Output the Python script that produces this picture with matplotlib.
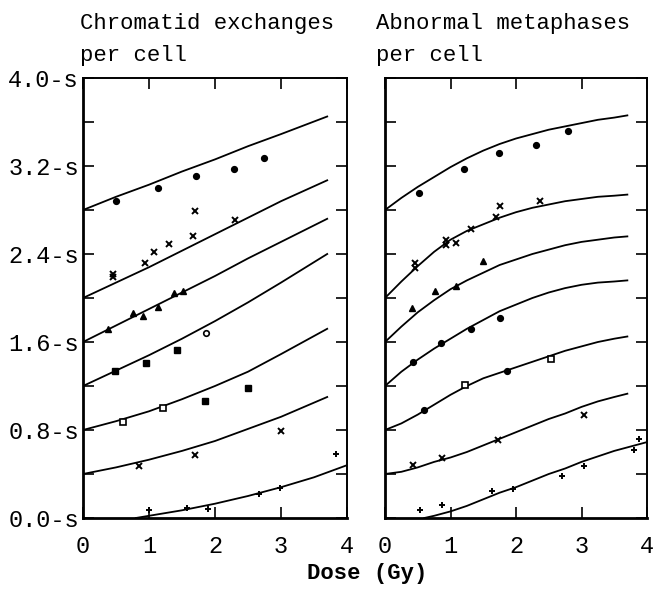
import numpy as np
import matplotlib
matplotlib.use("Agg")
import matplotlib.pyplot as plt

# --- data (dose in Gy, value in per-cell units, curves offset) ---
# left panel: chromatid exchanges per cell, fitted curves
left_dose = [0, 0.5, 1, 1.5, 2, 2.5, 3, 3.7]
left_curves = [
    [2.80, 2.92, 3.03, 3.15, 3.26, 3.38, 3.49, 3.65],
    [2.00, 2.14, 2.28, 2.43, 2.58, 2.73, 2.88, 3.07],
    [1.60, 1.75, 1.90, 2.05, 2.20, 2.36, 2.51, 2.72],
    [1.20, 1.34, 1.48, 1.63, 1.79, 1.96, 2.14, 2.40],
    [0.80, 0.88, 0.97, 1.08, 1.20, 1.33, 1.49, 1.72],
    [0.40, 0.46, 0.53, 0.61, 0.70, 0.81, 0.92, 1.10],
]
left_low_dose = [0.8, 1, 1.5, 2, 2.5, 3, 3.5, 4]
left_low_curve = [0.0, 0.02, 0.07, 0.13, 0.20, 0.28, 0.37, 0.48]

# left panel: observed points
left_pts = [
    ([0.50, 1.13, 1.71, 2.29, 2.74], [2.88, 3.00, 3.11, 3.17, 3.27], "o"),
    ([0.46, 0.46, 0.94, 1.07, 1.30, 1.67, 1.70, 2.30],
     [2.22, 2.19, 2.32, 2.42, 2.49, 2.56, 2.79, 2.71], "x"),
    ([0.38, 0.76, 0.91, 1.14, 1.38, 1.51], [1.72, 1.86, 1.84, 1.92, 2.05, 2.06], "^"),
    ([0.48, 0.95, 1.42], [1.34, 1.41, 1.53], "s"),
    ([1.87], [1.68], "o_open"),
    ([0.60, 1.21], [0.87, 1.00], "s_open"),
    ([1.85, 2.50], [1.06, 1.18], "s"),
    ([0.85, 1.70, 3.00], [0.47, 0.57, 0.79], "x"),
    ([3.84, 1.00, 1.58, 1.90, 2.67, 2.98], [0.58, 0.07, 0.09, 0.08, 0.22, 0.27], "+"),
]

# right panel: abnormal metaphases per cell, fitted curves
right_dose = [0, 0.25, 0.5, 0.75, 1, 1.25, 1.5, 1.75, 2, 2.25, 2.5, 2.75, 3, 3.25, 3.5, 3.7]
right_curves = [
    [2.80, 2.91, 3.01, 3.10, 3.19, 3.27, 3.34, 3.40, 3.45, 3.49, 3.53, 3.56, 3.59, 3.62, 3.64, 3.66],
    [2.00, 2.15, 2.29, 2.42, 2.53, 2.61, 2.67, 2.73, 2.78, 2.82, 2.85, 2.88, 2.90, 2.92, 2.93, 2.94],
    [1.60, 1.74, 1.87, 1.98, 2.08, 2.16, 2.23, 2.30, 2.35, 2.40, 2.44, 2.48, 2.51, 2.53, 2.55, 2.56],
    [1.20, 1.33, 1.44, 1.54, 1.63, 1.72, 1.80, 1.88, 1.94, 2.00, 2.05, 2.09, 2.12, 2.14, 2.15, 2.16],
    [0.80, 0.86, 0.94, 1.03, 1.12, 1.20, 1.27, 1.32, 1.37, 1.42, 1.47, 1.52, 1.56, 1.60, 1.63, 1.65],
    [0.40, 0.42, 0.46, 0.51, 0.55, 0.60, 0.66, 0.72, 0.78, 0.84, 0.90, 0.95, 1.01, 1.06, 1.10, 1.13],
]
right_low_dose = [0.6, 0.75, 1, 1.25, 1.5, 1.75, 2, 2.25, 2.5, 2.75, 3, 3.25, 3.5, 3.75, 4]
right_low_curve = [0.0, 0.02, 0.06, 0.11, 0.17, 0.23, 0.28, 0.34, 0.40, 0.45, 0.51, 0.56, 0.61,
                   0.65, 0.69]

right_pts = [
    ([0.52, 1.20, 1.74, 2.30, 2.80], [2.95, 3.17, 3.32, 3.39, 3.52], "o"),
    ([0.46, 0.46, 0.93, 0.93, 1.08, 1.32, 1.70, 1.76, 2.36],
     [2.32, 2.27, 2.53, 2.48, 2.50, 2.63, 2.74, 2.84, 2.88], "x"),
    ([0.41, 0.76, 1.09, 1.49], [1.91, 2.06, 2.11, 2.34], "^"),
    ([0.43, 0.85, 1.32, 1.76], [1.42, 1.59, 1.72, 1.82], "o"),
    ([0.59, 1.86], [0.98, 1.34], "o"),
    ([1.22, 2.53], [1.21, 1.45], "s_open"),
    ([0.43, 0.87, 1.73, 3.04], [0.48, 0.55, 0.71, 0.94], "x"),
    ([0.53, 0.87, 1.63, 1.95, 2.70, 3.04, 3.80, 3.88],
     [0.07, 0.12, 0.25, 0.26, 0.38, 0.47, 0.62, 0.72], "+"),
]

ytick_labels = ["0.0-s", "0.8-s", "1.6-s", "2.4-s", "3.2-s", "4.0-s"]
xtick_labels = ["0", "1", "2", "3", "4"]

FONT = "Liberation Mono"
W, H = 657, 597


def draw_points(ax, pts):
    for xs, ys, m in pts:
        if m.endswith("_open"):
            ax.plot(xs, ys, linestyle="none", marker=m[0], ms=4,
                    mfc="white", mec="black", mew=1.2)
        elif m in ("x", "+"):
            ax.plot(xs, ys, linestyle="none", marker=m, ms=4, color="black", mew=1.4)
        else:
            ax.plot(xs, ys, linestyle="none", marker=m, ms=4.2, color="black")


def style_axes(ax, show_ylabels):
    ax.set_xlim(0, 4)
    ax.set_ylim(0, 4)
    ax.set_xticks([0, 1, 2, 3, 4])
    ax.set_xticklabels(xtick_labels, fontfamily=FONT, fontsize=17)
    ax.set_yticks(np.arange(0, 4.01, 0.8))
    ax.set_yticks(np.arange(0.4, 4.0, 0.8), minor=True)
    if show_ylabels:
        ax.set_yticklabels(ytick_labels, fontfamily=FONT, fontsize=17)
    else:
        ax.set_yticklabels([])
    ax.tick_params(axis="both", which="both", direction="in", length=8, width=1.2,
                   top=True, right=True)
    ax.tick_params(axis="x", pad=12)
    ax.tick_params(axis="y", pad=3)
    for side in ("top", "right"):
        ax.spines[side].set_linewidth(1.4)
    for side in ("left", "bottom"):
        ax.spines[side].set_linewidth(2.0)


fig = plt.figure(figsize=(W / 100, H / 100), dpi=100)
ax1 = fig.add_axes([83 / W, 1 - 518 / H, 264 / W, 440 / H])
ax2 = fig.add_axes([385 / W, 1 - 518 / H, 262 / W, 440 / H])

for c in left_curves:
    ax1.plot(left_dose, c, color="black", lw=1.3)
ax1.plot(left_low_dose, left_low_curve, color="black", lw=1.3)
draw_points(ax1, left_pts)

for c in right_curves:
    ax2.plot(right_dose, c, color="black", lw=1.3)
ax2.plot(right_low_dose, right_low_curve, color="black", lw=1.3)
draw_points(ax2, right_pts)

style_axes(ax1, True)
style_axes(ax2, False)

# panel titles
fig.text(80 / W, 1 - 24 / H, "Chromatid exchanges", fontfamily=FONT, fontsize=16,
         va="center", ha="left")
fig.text(80 / W, 1 - 55 / H, "per cell", fontfamily=FONT, fontsize=16,
         va="center", ha="left")
fig.text(376 / W, 1 - 24 / H, "Abnormal metaphases", fontfamily=FONT, fontsize=16,
         va="center", ha="left")
fig.text(376 / W, 1 - 55 / H, "per cell", fontfamily=FONT, fontsize=16,
         va="center", ha="left")
fig.text(367 / W, 1 - 574 / H, "Dose (Gy)", fontfamily=FONT, fontsize=16,
         fontweight="bold", va="center", ha="center")

fig.savefig("out.png", dpi=100)
